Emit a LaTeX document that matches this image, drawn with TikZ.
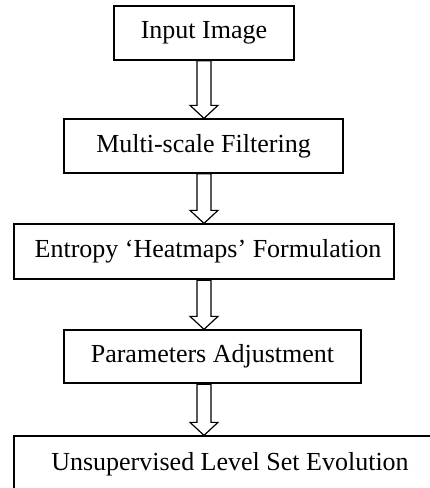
\documentclass[tikz,border=0pt]{standalone}
\usepackage{fontspec}
\setmainfont{Liberation Serif}
\usetikzlibrary{calc}
\tikzset{
  stepbox/.style={draw=black, line width=1.3pt, rectangle, inner sep=0pt,
    font=\fontsize{26}{30}\selectfont, text=black},
  hollow/.style={draw=black, line width=1.2pt, fill=white, line join=miter},
  shafttop/.style={draw=black, line width=2.6pt}
}
\newcommand\hollowarr[2]{%
  \draw[hollow] let \p1=(#1.south -| ax), \p2=(#2.north -| ax) in
    (\x1-7pt,\y1) -- (\x1-7pt,\y2+13pt) -- (\x1-14pt,\y2+13pt) -- (\x1,\y2)
    -- (\x1+14pt,\y2+13pt) -- (\x1+7pt,\y2+13pt) -- (\x1+7pt,\y1) -- cycle;}
\begin{document}
\begin{tikzpicture}[x=1pt,y=1pt]
\useasboundingbox (0,0) rectangle (430,-488);
\clip (0,0) rectangle (430,-488);
\coordinate (ax) at (204,0);
\node[stepbox, minimum width=180pt, minimum height=54pt] (b1) at (204,-33) {Input Image};
\node[stepbox, minimum width=279pt, minimum height=54pt] (b2) at (203.5,-146) {Multi-scale Filtering};
\node[stepbox, minimum width=380pt, minimum height=55pt] (b3) at (204,-251.5) {\hspace{8pt}Entropy ‘Heatmaps’ Formulation};
\node[stepbox, minimum width=297pt, minimum height=53pt] (b4) at (212.5,-356.5) {Parameters Adjustment\hspace{6pt}};
\node[stepbox, minimum width=426pt, minimum height=56pt] (b5) at (227,-464) {\hspace{6pt}Unsupervised Level Set Evolution};
\hollowarr{b1}{b2}
\hollowarr{b2}{b3}
\hollowarr{b3}{b4}
\hollowarr{b4}{b5}
\draw[shafttop] ($(b3.south -| ax)+(-7,0)$) -- ($(b3.south -| ax)+(7,0)$);
\draw[shafttop] ($(b4.south -| ax)+(-7,0)$) -- ($(b4.south -| ax)+(7,0)$);
\end{tikzpicture}
\end{document}
